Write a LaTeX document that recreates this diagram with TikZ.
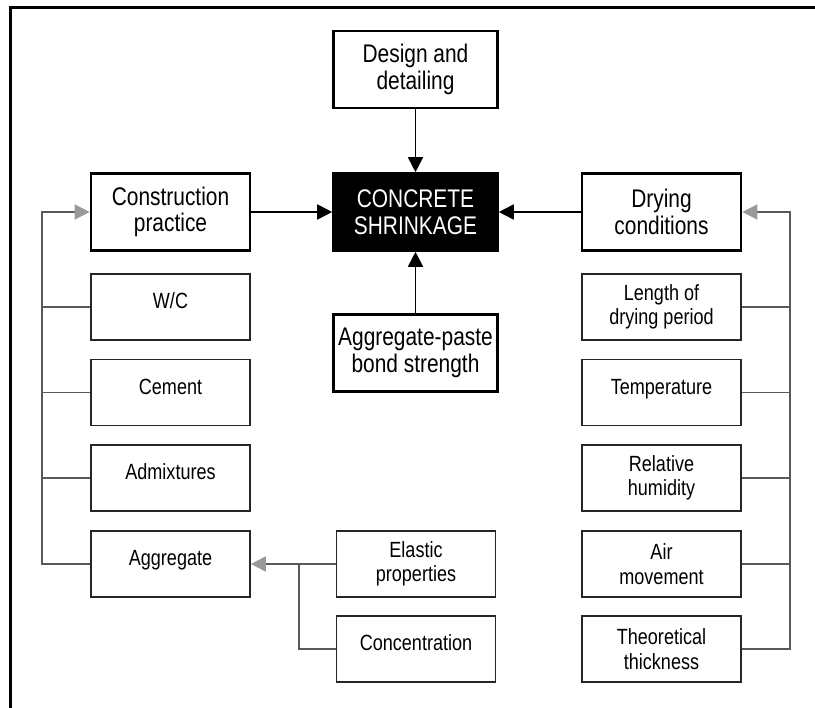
\documentclass[tikz,border=0pt]{standalone}
\usepackage{fontspec}
\setmainfont{Liberation Sans}[FakeStretch=0.82]
\usetikzlibrary{arrows.meta,positioning}
\tikzset{main box/.style={rectangle,draw,line width=2.6pt,minimum width=159pt,minimum height=77pt,inner sep=0pt,align=center,font=\fontsize{25.5}{26.5}\selectfont},
         core box/.style={main box,fill=black,text=white,minimum width=164pt},
         sub box/.style={rectangle,draw=black!85,line width=1.6pt,minimum width=159pt,minimum height=66pt,inner sep=0pt,align=center,font=\fontsize{22}{24.5}\selectfont},
         one line/.style={text depth=12pt},
         main arrow/.style={-{Triangle[length=15pt,width=15pt]},line width=1.8pt},
         feed line/.style={draw=black!65,line width=1.6pt},
         feed arrow/.style={feed line,-{Triangle[length=15pt,width=15pt,color=black!40]}},
}

\begin{document}
\begin{tikzpicture}[x=1pt,y=-1pt]
\useasboundingbox (0,0) rectangle (815,708);
% frame, cut at right and bottom
\draw[line width=3pt] (815,8) -- (10,8) -- (10,708);

\node[core box] (shrink) at (415.5,212) {CONCRETE\\SHRINKAGE};
\node[main box,minimum width=164pt] (design) at (415.5,69.5) {Design and\\detailing};
\node[main box,minimum width=164pt] (bond) at (415.5,353) {Aggregate-paste\\bond strength};
\node[main box] (practice) at (170.5,212) {Construction\\practice};
\node[main box] (drying) at (661.5,212) {Drying\\conditions};

% left column
\node[sub box,one line] (wc) at (170.5,307) {W/C};
\node[sub box,one line] (cement) at (170.5,392.5) {Cement};
\node[sub box,one line] (admix) at (170.5,478) {Admixtures};
\node[sub box,one line] (agg) at (170.5,564) {Aggregate};

% right column
\node[sub box] (length) at (661.5,307) {Length of\\drying period};
\node[sub box,one line] (temp) at (661.5,392.5) {Temperature};
\node[sub box] (humid) at (661.5,478) {Relative\\humidity};
\node[sub box] (air) at (661.5,564) {Air\\movement};
\node[sub box] (thick) at (661.5,649) {Theoretical\\thickness};

% aggregate properties
\node[sub box] (elastic) at (416,564) {Elastic\\properties};
\node[sub box,one line] (conc) at (416,649) {Concentration};

\coordinate (lbus) at (42,0);
\coordinate (rbus) at (790,0);
\coordinate (split) at (299,564);

\draw[main arrow] (design) -- (shrink);
\draw[main arrow] (bond) -- (shrink);
\draw[main arrow] (practice) -- (shrink);
\draw[main arrow] (drying) -- (shrink);

\draw[feed arrow] (agg.west) -- (agg.west -| lbus) |- (practice.west);
\foreach \n in {wc,cement,admix}
    \draw[feed line] (\n.west) -- (\n.west -| lbus);

\draw[feed arrow] (thick.east) -- (thick.east -| rbus) |- (drying.east);
\foreach \n in {length,temp,humid,air}
    \draw[feed line] (\n.east) -- (\n.east -| rbus);

\draw[feed arrow] (elastic.west) -- (agg.east);
\draw[feed line] (conc.west) -| (split);
\end{tikzpicture}
\end{document}
